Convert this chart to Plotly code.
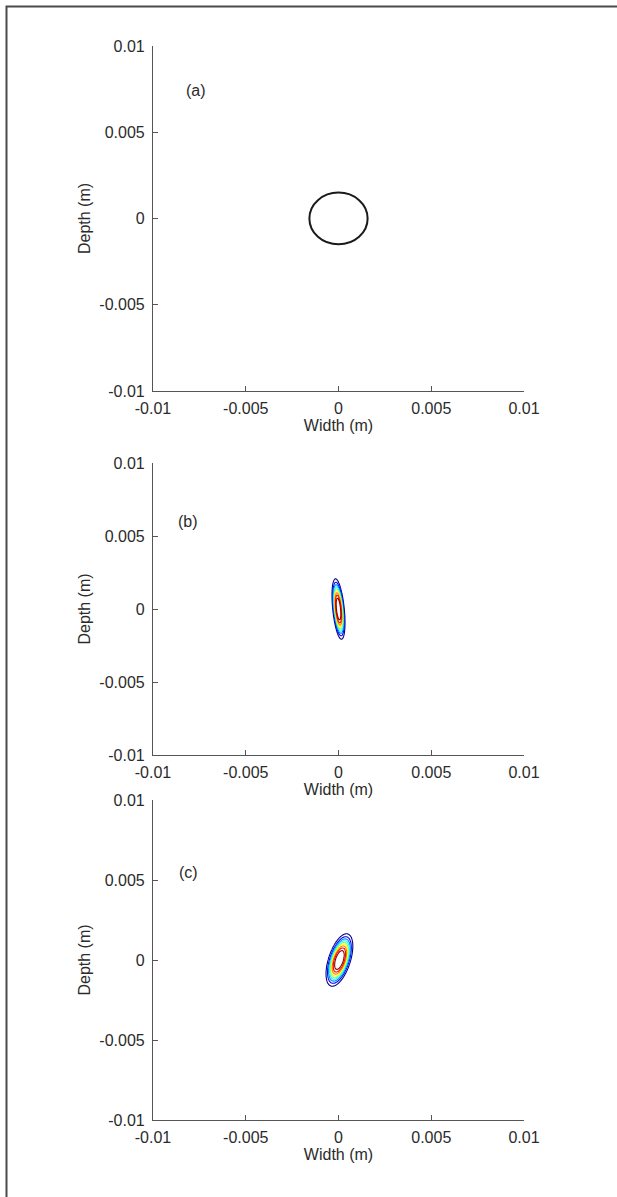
import numpy as np
import plotly.graph_objects as go

# Axis ticks shared by all three panels
tick_vals = [-0.01, -0.005, 0, 0.005, 0.01]
tick_text = ["-0.01", "-0.005", "0", "0.005", "0.01"]
panel_labels = ["(a)", "(b)", "(c)"]

# (a) initial circular aperture
circle_radius_x = 0.00157
circle_radius_y = 0.0015

# (b), (c) intensity spot parameters: widths (m), tilt of major axis from vertical (deg, + = top to the right)
spot_sigma_minor = [0.000235, 0.00045]
spot_sigma_major = [0.00157, 0.00128]
spot_tilt_deg = [-4.5, 15.0]
spot_center_x = [0.0, 0.00005]
spot_center_y = [0.0, 0.0]
spot_order = 3.0
contour_levels = [0.1, 0.2, 0.3, 0.4, 0.5, 0.6, 0.7, 0.8, 0.9]

# MATLAB-style jet colormap
jet = [
    [0.0, "rgb(0,0,128)"],
    [0.125, "rgb(0,0,255)"],
    [0.375, "rgb(0,255,255)"],
    [0.625, "rgb(255,255,0)"],
    [0.875, "rgb(255,0,0)"],
    [1.0, "rgb(128,0,0)"],
]

W, H = 617, 1197
x_dom = [153 / W, 524 / W]
y_doms = [
    [1 - 391 / H, 1 - 46 / H],
    [1 - 755 / H, 1 - 463 / H],
    [1 - 1120 / H, 1 - 800 / H],
]

FONT = "Liberation Sans, Arial, sans-serif"
FS = 16
TXT = "#2b2b2b"
AXC = "#555555"

fig = go.Figure()

grid = np.linspace(-0.004, 0.004, 401)
gx, gy = np.meshgrid(grid, grid)

for k in range(2):
    th = np.deg2rad(spot_tilt_deg[k])
    dx = gx - spot_center_x[k]
    dy = gy - spot_center_y[k]
    # coordinates along the minor (u) and major (v) axes
    u = dx * np.cos(th) - dy * np.sin(th)
    v = dx * np.sin(th) + dy * np.cos(th)
    r2 = (u / spot_sigma_minor[k]) ** 2 + (v / spot_sigma_major[k]) ** 2
    inten = np.exp(-(r2 ** (spot_order / 2)))
    n = k + 2
    fig.add_trace(go.Contour(
        x=grid, y=grid, z=inten,
        xaxis=f"x{n}", yaxis=f"y{n}",
        contours=dict(start=contour_levels[0], end=contour_levels[-1],
                      size=contour_levels[1] - contour_levels[0], coloring="lines"),
        line=dict(width=1.1),
        colorscale=jet, zmin=0.1, zmax=1.015,
        showscale=False, hoverinfo="skip",
    ))

shapes = [
    dict(type="circle", xref="x", yref="y",
         x0=-circle_radius_x, x1=circle_radius_x,
         y0=-circle_radius_y, y1=circle_radius_y,
         line=dict(color="#1a1a1a", width=2)),
    # outer frame
    dict(type="rect", xref="paper", yref="paper",
         x0=6.5 / W, x1=1.05, y0=-0.05, y1=1 - 6.5 / H,
         line=dict(color="#4a4a4a", width=2), fillcolor="rgba(0,0,0,0)"),
]

layout = dict(
    width=W, height=H,
    margin=dict(l=0, r=0, t=0, b=0, pad=0, autoexpand=False),
    paper_bgcolor="white", plot_bgcolor="white",
    showlegend=False,
    font=dict(family=FONT, size=FS, color=TXT),
    shapes=shapes,
)

annotations = []
label_pos = [(-0.0077, 0.0074), (-0.0081, 0.0060), (-0.0081, 0.0055)]
for i in range(3):
    sfx = "" if i == 0 else str(i + 1)
    common = dict(
        range=[-0.01, 0.01], tickvals=tick_vals, ticktext=tick_text,
        showgrid=False, zeroline=False, showline=True, linecolor=AXC, linewidth=1.2,
        ticks="inside", ticklen=5, tickcolor=AXC, tickwidth=1.2,
        tickfont=dict(family=FONT, size=FS, color=TXT), mirror=False,
        automargin=False,
    )
    layout[f"xaxis{sfx}"] = dict(
        common, domain=x_dom, anchor=f"y{sfx}", ticklabelstandoff=3,
        title=dict(text="Width (m)", font=dict(family=FONT, size=FS, color=TXT), standoff=3),
    )
    layout[f"yaxis{sfx}"] = dict(
        common, domain=y_doms[i], anchor=f"x{sfx}", ticklabelstandoff=4,
        title=dict(text="Depth (m)", font=dict(family=FONT, size=FS, color=TXT), standoff=4),
    )
    annotations.append(dict(
        x=label_pos[i][0], y=label_pos[i][1], xref=f"x{sfx}", yref=f"y{sfx}",
        text=panel_labels[i], showarrow=False,
        font=dict(family=FONT, size=FS, color=TXT),
    ))

layout["annotations"] = annotations
fig.update_layout(**layout)
fig.write_html("out.html")
